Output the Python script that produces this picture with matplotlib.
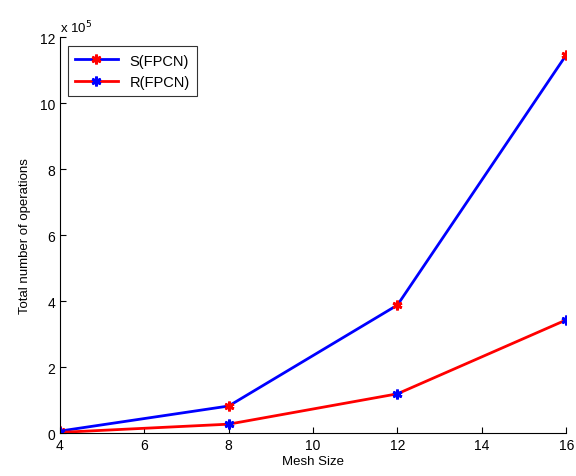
import numpy as np
import matplotlib
matplotlib.use("Agg")
import matplotlib.pyplot as plt
from matplotlib.ticker import FuncFormatter

# operation counts per mesh size
mesh_size = [4, 8, 12, 16]
s_fpcn = [0.06e5, 0.82e5, 3.88e5, 11.46e5]
r_fpcn = [0.02e5, 0.27e5, 1.19e5, 3.43e5]

plt.rcParams.update({"font.family": ["Liberation Sans", "DejaVu Sans"], "font.size": 9.5})

fig = plt.figure(figsize=(5.76, 4.77), dpi=100)
ax = fig.add_axes([0.104, 0.090, 0.879, 0.830])

star = (6, 2, 0)
ax.plot(mesh_size, s_fpcn, color="#0000ff", lw=2, marker=star, ms=7, mew=2,
        mec="#ff0000", mfc="#ff0000", label="S(FPCN)")
ax.plot(mesh_size, r_fpcn, color="#ff0000", lw=2, marker=star, ms=7, mew=2,
        mec="#0000ff", mfc="#0000ff", label="R(FPCN)")

ax.set_xlim(4, 16)
ax.set_ylim(0, 12e5)
ax.set_xticks([4, 6, 8, 10, 12, 14, 16])
ax.set_yticks(np.arange(0, 13e5, 2e5))
ax.yaxis.set_major_formatter(FuncFormatter(lambda v, _: f"{v / 1e5:.0f}"))
ax.text(0.0, 1.005, r"x 10$^5$", transform=ax.transAxes, fontsize=9.5, va="bottom", ha="left")

ax.spines["top"].set_visible(False)
ax.spines["right"].set_visible(False)
ax.tick_params(direction="in", length=4, width=0.8, colors="black", labelsize=10)
ax.set_xlabel("Mesh Size", labelpad=2)
ax.set_ylabel("Total number of operations", labelpad=6)

leg = ax.legend(loc="upper left", bbox_to_anchor=(0.016, 0.977), borderaxespad=0,
                frameon=True, fancybox=False, edgecolor="black", handlelength=2.9,
                borderpad=0.5, labelspacing=0.5, fontsize=10.5)
leg.get_frame().set_linewidth(0.8)

fig.savefig("out.png", dpi=100)
